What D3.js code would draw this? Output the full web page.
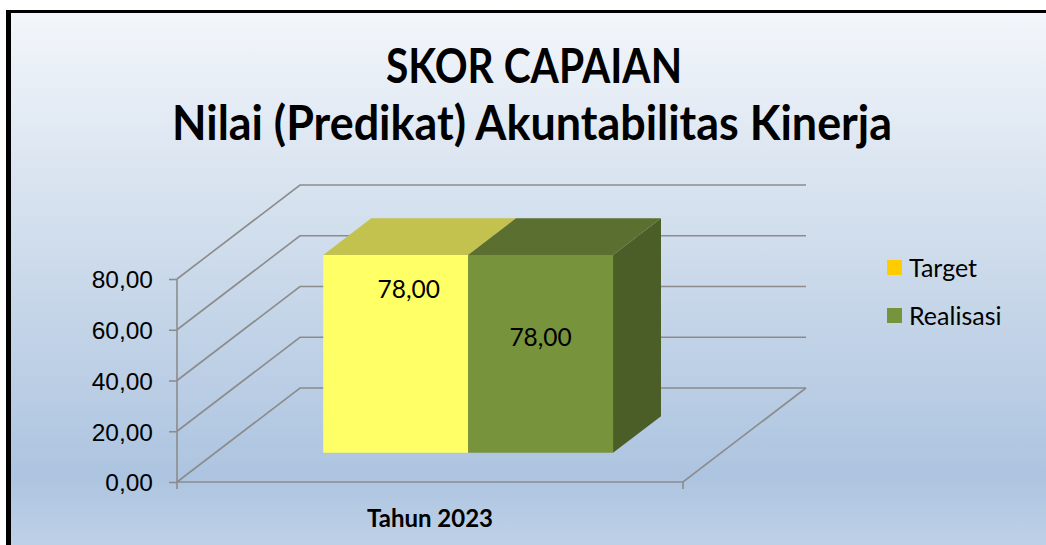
<!DOCTYPE html>
<html>
<head>
<meta charset="utf-8">
<script src="https://cdn.jsdelivr.net/npm/d3@7"></script>
<style>
  body { margin: 0; background: #fff; }
  svg { display: block; font-family: Lato, "Open Sans", sans-serif; }
</style>
</head>
<body>
<script>
// chart data
var categories = ["Tahun 2023"];
var seriesNames = ["Target", "Realisasi"];
var targetValues = [78];
var realisasiValues = [78];
var yTicks = [0, 20, 40, 60, 80];

var W = 1046, H = 545;

// colours for each series: front, top, side, legend
var colors = {
  Target:    { front: "#ffff66", top: "#c3c24f", side: "#9a9a3a", key: "#ffcc00" },
  Realisasi: { front: "#77933c", top: "#5b7030", side: "#4b5e27", key: "#77933c" }
};

var svg = d3.select("body").append("svg")
  .attr("width", W)
  .attr("height", H);

var defs = svg.append("defs");
var grad = defs.append("linearGradient")
  .attr("id", "bg").attr("x1", 0).attr("y1", 0).attr("x2", 0).attr("y2", 1);
grad.append("stop").attr("offset", "0%").attr("stop-color", "#f3f6fb");
grad.append("stop").attr("offset", "35%").attr("stop-color", "#d5e1ee");
grad.append("stop").attr("offset", "85%").attr("stop-color", "#adc4e0");
grad.append("stop").attr("offset", "100%").attr("stop-color", "#c2d3e8");

// frame: thick black left / top edge
svg.append("rect").attr("x", 6).attr("y", 10).attr("width", W).attr("height", H).attr("fill", "#000");
svg.append("rect").attr("x", 11).attr("y", 13).attr("width", W).attr("height", H).attr("fill", "url(#bg)");

// title
var title = svg.append("text")
  .attr("text-anchor", "middle")
  .attr("font-weight", 700)
  .attr("font-size", 47)
  .attr("fill", "#000");
title.append("tspan").attr("x", 534).attr("y", 83)
  .attr("textLength", 296).attr("lengthAdjust", "spacingAndGlyphs")
  .text("SKOR CAPAIAN");
title.append("tspan").attr("x", 532).attr("y", 140)
  .attr("textLength", 720).attr("lengthAdjust", "spacingAndGlyphs")
  .text("Nilai (Predikat) Akuntabilitas Kinerja");

// 3d geometry
var depth = { dx: 123, dy: -94 };   // full depth of the plot box
var barDepth = [0.31, 0.70];        // bar front / back as fraction of depth

var y = d3.scaleLinear().domain([0, 80]).range([482, 279]);
var x0 = d3.scaleBand().domain(categories).range([177, 683]).paddingInner(0).paddingOuter(0.373);
var x1 = d3.scaleBand().domain(seriesNames).range([0, x0.bandwidth()]);

function pt(px, py, t) { return [px + depth.dx * t, py + depth.dy * t]; }
function pts(list) { return list.map(function(p) { return p.join(","); }).join(" "); }

var gridColor = "#8c8c8c";
var grid = svg.append("g").attr("stroke", gridColor).attr("stroke-width", 1.6).attr("fill", "none");

// back wall and side wall gridlines
yTicks.forEach(function(v) {
  grid.append("polyline").attr("points", pts([pt(177, y(v), 0), pt(177, y(v), 1), pt(683, y(v), 1)]));
});

// floor front & right edge
grid.append("polyline").attr("points", pts([pt(177, y(0), 0), pt(683, y(0), 0), pt(683, y(0), 1)]));

// y axis
var yAxis = d3.axisLeft(y).tickValues(yTicks).tickSize(8).tickPadding(16)
  .tickFormat(function(d) { return d3.format(".2f")(d).replace(".", ","); });
var gy = svg.append("g").attr("transform", "translate(177,0)").call(yAxis);
gy.select(".domain").remove();
gy.selectAll(".tick line").attr("stroke", gridColor).attr("stroke-width", 1.6);
gy.selectAll(".tick text").attr("font-size", 24.5).attr("fill", "#000").attr("dy", "0.36em");
svg.append("line").attr("x1", 177).attr("x2", 177).attr("y1", y(80)).attr("y2", y(0) + 7)
  .attr("stroke", gridColor).attr("stroke-width", 1.6);
svg.append("line").attr("x1", 683).attr("x2", 683).attr("y1", y(0)).attr("y2", y(0) + 7)
  .attr("stroke", gridColor).attr("stroke-width", 1.6);

// x axis label
svg.append("text")
  .attr("x", x0(categories[0]) + x0.bandwidth() / 2)
  .attr("y", 527)
  .attr("text-anchor", "middle")
  .attr("font-weight", 700)
  .attr("font-size", 24)
  .text(categories[0]);

// bars
var valuesBySeries = { Target: targetValues, Realisasi: realisasiValues };
var labelShift = { Target: [13, 43], Realisasi: [0, 91] };
var bars = svg.append("g");

categories.forEach(function(cat, ci) {
  seriesNames.forEach(function(s) {
    var v = valuesBySeries[s][ci];
    var xl = x0(cat) + x1(s), xr = xl + x1.bandwidth();
    var t0 = barDepth[0], t1 = barDepth[1];
    var c = colors[s];
    // side
    bars.append("polygon").attr("fill", c.side)
      .attr("points", pts([pt(xr, y(v), t0), pt(xr, y(v), t1), pt(xr, y(0), t1), pt(xr, y(0), t0)]));
    // top
    bars.append("polygon").attr("fill", c.top)
      .attr("points", pts([pt(xl, y(v), t0), pt(xr, y(v), t0), pt(xr, y(v), t1), pt(xl, y(v), t1)]));
    // front
    bars.append("polygon").attr("fill", c.front)
      .attr("points", pts([pt(xl, y(v), t0), pt(xr, y(v), t0), pt(xr, y(0), t0), pt(xl, y(0), t0)]));
  });
});

// data labels (drawn last so they sit on top)
categories.forEach(function(cat, ci) {
  seriesNames.forEach(function(s) {
    var v = valuesBySeries[s][ci];
    var xl = x0(cat) + x1(s);
    var top = pt(xl + x1.bandwidth() / 2, y(v), barDepth[0]);
    svg.append("text")
      .attr("x", top[0] + labelShift[s][0])
      .attr("y", top[1] + labelShift[s][1])
      .attr("text-anchor", "middle")
      .attr("font-size", 24.5)
      .text(d3.format(".2f")(v).replace(".", ","));
  });
});

// legend
var legend = svg.append("g").attr("transform", "translate(887,260)");
seriesNames.forEach(function(s, i) {
  var g = legend.append("g").attr("transform", "translate(0," + (i * 48) + ")");
  g.append("rect").attr("width", 15).attr("height", 15).attr("fill", colors[s].key);
  g.append("text").attr("x", 22).attr("y", 8).attr("dy", "0.36em")
    .attr("font-size", 25).text(s);
});
</script>
</body>
</html>
